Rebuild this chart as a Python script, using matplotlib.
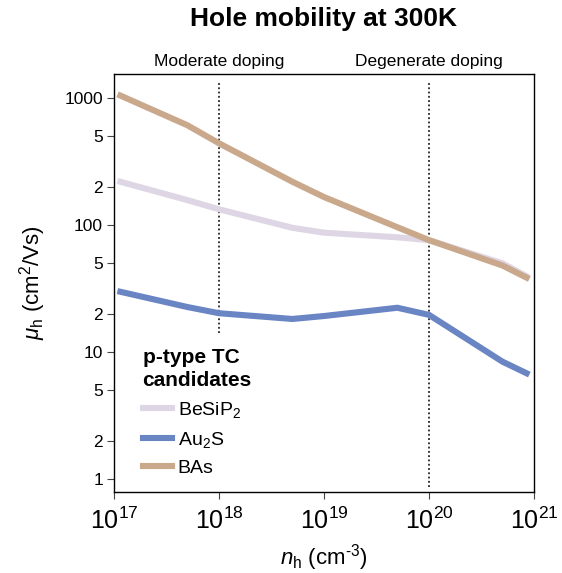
import matplotlib
matplotlib.use("Agg")
import matplotlib.pyplot as plt

plt.rcParams['font.family'] = ['Liberation Sans', 'DejaVu Sans']
plt.rcParams['mathtext.fontset'] = 'custom'
plt.rcParams['mathtext.rm'] = 'Liberation Sans'
plt.rcParams['mathtext.it'] = 'Liberation Sans:italic'
plt.rcParams['mathtext.bf'] = 'Liberation Sans:bold'

# ---- data ----
doping = [1.15e17, 5e17, 1e18, 5e18, 1e19, 5e19, 1e20, 5e20, 8.5e20]
mu_BeSiP2 = [219, 157, 133, 95, 87, 80, 76, 50, 39.5]
mu_Au2S = [29.8, 22.6, 20.2, 18.2, 19.2, 22.3, 19.6, 8.4, 6.8]
mu_BAs = [1045, 610, 440, 219, 166, 96, 76, 48, 38.5]

series_labels = ['BeSiP$_2$', 'Au$_2$S', 'BAs']
series_colors = ['#ded6e4', '#6a85c4', '#c9a88c']

regime_positions = [1e18, 1e20]
regime_labels = ['Moderate doping', 'Degenerate doping']
regime_line_ymin = [14, 0.86]
regime_line_ymax = [1340, 1340]

xticks = [1e17, 1e18, 1e19, 1e20, 1e21]
xticklabels = ['$10^{17}$', '$10^{18}$', '$10^{19}$', '$10^{20}$', '$10^{21}$']
yticks = [1, 2, 5, 10, 20, 50, 100, 200, 500, 1000]
yticklabels = ['1', '2', '5', '10', '2', '5', '100', '2', '5', '1000']

W, H = 562, 573
fig = plt.figure(figsize=(W / 100, H / 100), dpi=100)
ax = fig.add_axes([114 / W, 1 - 492 / H, 420 / W, 418 / H])

for xv, lo, hi in zip(regime_positions, regime_line_ymin, regime_line_ymax):
    ax.plot([xv, xv], [lo, hi], color='black', lw=1.1, linestyle=(0, (1.2, 1.6)), zorder=1)

for ys, lab, col in zip([mu_BeSiP2, mu_Au2S, mu_BAs], series_labels, series_colors):
    ax.plot(doping, ys, color=col, lw=4.4, label=lab, solid_joinstyle='miter', zorder=2)

ax.set_xscale('log')
ax.set_yscale('log')
ax.set_xlim(1e17, 1e21)
ax.set_ylim(0.79, 1545)

ax.set_xticks(xticks)
ax.set_xticklabels(xticklabels, fontsize=18)
ax.set_yticks(yticks)
ax.set_yticklabels(yticklabels, fontsize=12.5)
ax.xaxis.set_minor_locator(matplotlib.ticker.NullLocator())
ax.yaxis.set_minor_locator(matplotlib.ticker.NullLocator())
ax.tick_params(axis='both', direction='out', length=5, width=0.8, color='#444444')
ax.tick_params(axis='x', pad=6)
ax.tick_params(axis='y', pad=3)
for s in ax.spines.values():
    s.set_linewidth(1.0)

ax.set_xlabel('$\\mathit{n}_{\\mathrm{h}}$ (cm$^{\\text{-}3}$)', fontsize=16, labelpad=6)
ax.set_ylabel('$\\mathit{\\mu}_{\\mathrm{h}}$ (cm$^{2}$/Vs)', fontsize=16, labelpad=12)

for xv, lab in zip(regime_positions, regime_labels):
    ax.text(xv, 1.012, lab, transform=ax.get_xaxis_transform(), ha='center', va='bottom', fontsize=12.5)

fig.text(324 / W, 1 - 19 / H, 'Hole mobility at 300K', ha='center', va='center',
         fontsize=19, fontweight='bold')

leg = ax.legend(loc='upper left', bbox_to_anchor=(0.045, 0.368), frameon=False,
                title='p-type TC\ncandidates', fontsize=14, handlelength=1.5,
                handletextpad=0.3, labelspacing=0.5, borderpad=0, alignment='left')
leg.get_title().set_fontweight('bold')
leg.get_title().set_fontsize(15)
leg.get_title().set_linespacing(1.3)

fig.savefig('out.png', dpi=100)
